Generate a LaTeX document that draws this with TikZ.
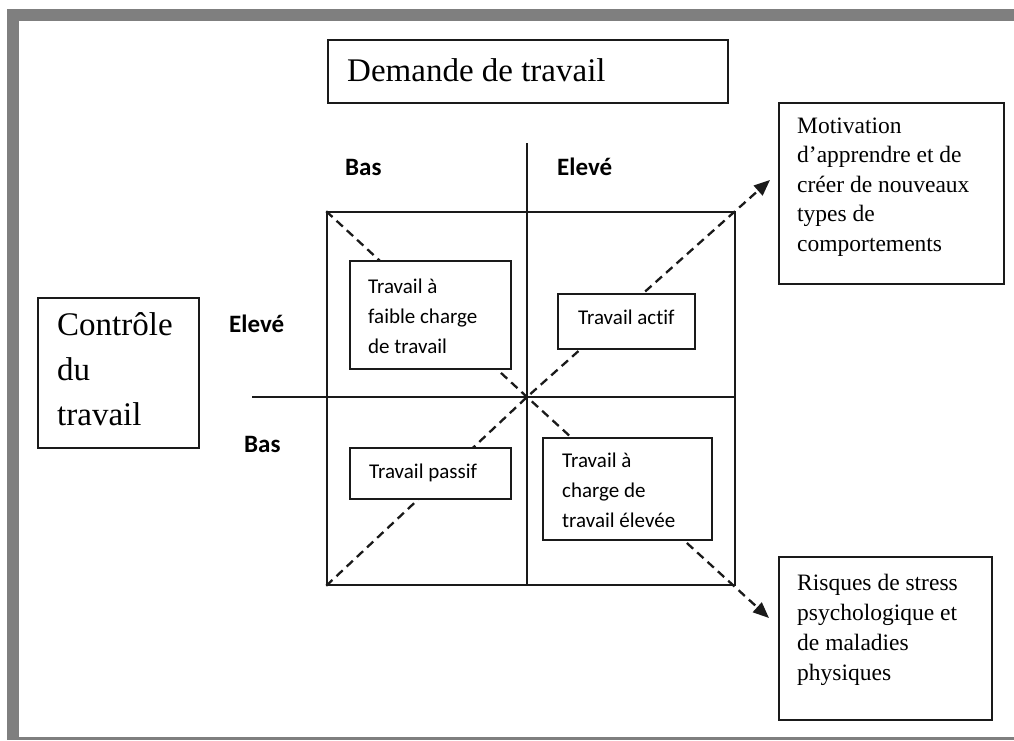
\documentclass[tikz,border=0pt]{standalone}
\usepackage{fontspec}
\setmainfont{Liberation Serif}
\newfontfamily\calfont{Carlito}[Ligatures={NoCommon}]
\usetikzlibrary{arrows.meta}
\definecolor{framegray}{HTML}{7F7F7F}
\definecolor{ink}{HTML}{1A1A1A}
\tikzset{
  box/.style={draw=ink, line width=1.5pt, fill=white, inner sep=0pt, rectangle},
  axisline/.style={draw=ink, line width=1.5pt},
  diag/.style={draw=ink, line width=2.3pt, dash pattern=on 8.5pt off 5.5pt, line join=round,
    -{Triangle[length=16pt,width=13pt]}},
  txtbase/.style={anchor=base west, inner sep=0pt, text=black},
  txttop/.style={anchor=north west, inner sep=0pt, align=left, text=black},
  serifbig/.style={font=\fontsize{33}{45}\selectfont},
  serifmid/.style={font=\fontsize{23.5}{29.5}\selectfont},
  serifmidb/.style={font=\fontsize{23.5}{30}\selectfont},
  cal/.style={font=\calfont\fontsize{21}{30}\selectfont},
  calbold/.style={font=\calfont\bfseries\fontsize{25}{30}\selectfont},
}
\begin{document}
\begin{tikzpicture}[x=1pt,y=-1pt]
\useasboundingbox (0,0) rectangle (1014,740);
% frame
\fill[framegray] (7,9) rectangle (1014,740);
\fill[white] (19,21) rectangle (1014,737);

% main square and axes
\node[box, fill=none, minimum width=408pt, minimum height=373pt] (grid) at (531,398.5) {};
\coordinate (vtop) at (527,143);
\coordinate (vbot) at (527,585);
\coordinate (hleft) at (252,397);
\coordinate (hright) at (735,397);
\coordinate (ctr) at (527,397);
\draw[axisline] (vtop) -- (vbot);
\draw[axisline] (hleft) -- (hright);

% diagonal dashed arrows
\coordinate (tipup) at (770,180);
\coordinate (tipdown) at (769,618);
\draw[diag] (grid.south west) -- (ctr) -- (tipup);
\draw[diag] (grid.north west) -- (ctr) -- (tipdown);

% boxes
\node[box, minimum width=400pt, minimum height=63pt] (dem) at (528,71.5) {};
\node[box, minimum width=161pt, minimum height=150pt] (ctrl) at (118.5,373) {};
\node[box, minimum width=225pt, minimum height=181pt] (motiv) at (891.5,193.5) {};
\node[box, minimum width=213pt, minimum height=163pt] (risk) at (885.5,638.5) {};
\node[box, minimum width=161pt, minimum height=108pt] (faible) at (430.5,315) {};
\node[box, minimum width=137pt, minimum height=55pt] (actif) at (626.5,321.5) {};
\node[box, minimum width=161pt, minimum height=51pt] (passif) at (430.5,473.5) {};
\node[box, minimum width=169pt, minimum height=102pt] (elevee) at (627.5,489) {};

% texts
\node[txtbase, serifbig] (demt) at (347,81) {Demande de travail};
\node[txttop, serifbig] (ctrlt) at (57,303.5) {\strut Contrôle\\du\\travail};
\node[txttop, serifmid] (motivt) at (797,112.35) {\strut Motivation\\d’apprendre et de\\créer de nouveaux\\types de\\comportements};
\node[txttop, serifmidb] (riskt) at (797,569) {\strut Risques de stress\\psychologique et\\de maladies\\physiques};
\node[txttop, cal] (faiblet) at (368,272) {\strut Travail à\\faible charge\\de travail};
\node[txtbase, cal] (actift) at (578,324) {Travail actif};
\node[txtbase, cal] (passift) at (369,478) {Travail passif};
\node[txttop, cal] (eleveet) at (562,446) {\strut Travail à\\charge de\\travail élevée};

% axis labels
\node[txtbase, calbold] (lbasx) at (345,175) {Bas};
\node[txtbase, calbold] (lelevx) at (557,175) {Elevé};
\node[txtbase, calbold] (lelevy) at (229,332) {Elevé};
\node[txtbase, calbold] (lbasy) at (244,452) {Bas};
\end{tikzpicture}
\end{document}
